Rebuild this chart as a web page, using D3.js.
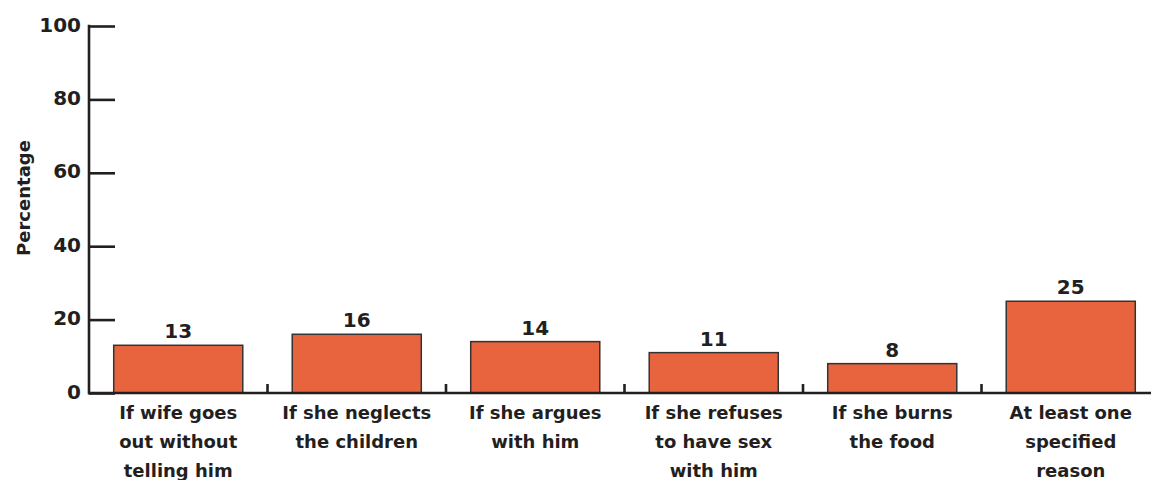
<!DOCTYPE html>
<html>
<head>
<meta charset="utf-8">
<script src="https://cdn.jsdelivr.net/npm/d3@7"></script>
<style>
  html, body { margin: 0; padding: 0; background: #fff; }
  svg { display: block; }
  text { font-family: "DejaVu Sans", "Liberation Sans", Arial, sans-serif; font-weight: bold; fill: #231f20; }
</style>
</head>
<body>
<svg id="chart" width="1151" height="480"></svg>
<script>
// Reasons a husband is justified in beating his wife (percent agreeing)
const categories = [
  ["If wife goes", "out without", "telling him"],
  ["If she neglects", "the children"],
  ["If she argues", "with him"],
  ["If she refuses", "to have sex", "with him"],
  ["If she burns", "the food"],
  ["At least one", "specified", "reason"]
];
const values = [13, 16, 14, 11, 8, 25];
const yTicks = [0, 20, 40, 60, 80, 100];
const yTitle = "Percentage";

const svg = d3.select("#chart");
const W = 1151;

const x = d3.scaleBand()
  .domain(d3.range(categories.length))
  .range([89, 1160])
  .paddingInner(0.277)
  .paddingOuter(0.1385);

const y = d3.scaleLinear().domain([0, 100]).range([393, 26]);

const ink = "#231f20";

// Bars
svg.append("g").selectAll("rect")
  .data(values)
  .join("rect")
  .attr("x", (d, i) => x(i))
  .attr("y", d => y(d))
  .attr("width", x.bandwidth())
  .attr("height", d => y(0) - y(d))
  .attr("fill", "#e8643f")
  .attr("stroke", "#333")
  .attr("stroke-width", 1.5);

// Value labels
svg.append("g").selectAll("text")
  .data(values)
  .join("text")
  .attr("x", (d, i) => x(i) + x.bandwidth() / 2)
  .attr("y", d => y(d) - 7)
  .attr("text-anchor", "middle")
  .attr("font-size", 20)
  .text(d => d);

// Y axis
const yAxis = d3.axisRight(y)
  .tickValues(yTicks)
  .tickSize(26)
  .tickFormat("");
const gy = svg.append("g").attr("transform", "translate(89,0)").call(yAxis);
gy.select(".domain").remove();
gy.selectAll(".tick line").attr("stroke", ink).attr("stroke-width", 2.6);
svg.append("line")
  .attr("x1", 89).attr("x2", 89)
  .attr("y1", y(100) - 1.3).attr("y2", y(0) + 1.3)
  .attr("stroke", ink).attr("stroke-width", 2.6);

svg.append("g").selectAll("text")
  .data(yTicks)
  .join("text")
  .attr("x", 81)
  .attr("y", d => y(d) + 5.5)
  .attr("text-anchor", "end")
  .attr("font-size", 20)
  .text(d => d);

// Y axis title
svg.append("text")
  .attr("transform", "translate(30,198) rotate(-90)")
  .attr("text-anchor", "middle")
  .attr("font-size", 18)
  .text(yTitle);

// X axis baseline and separator ticks between categories
svg.append("line")
  .attr("x1", 88).attr("x2", W)
  .attr("y1", y(0)).attr("y2", y(0))
  .attr("stroke", ink).attr("stroke-width", 2.6);

const step = x.step();
svg.append("g").selectAll("line")
  .data(d3.range(1, categories.length))
  .join("line")
  .attr("x1", i => x.range()[0] + i * step)
  .attr("x2", i => x.range()[0] + i * step)
  .attr("y1", y(0))
  .attr("y2", y(0) - 9)
  .attr("stroke", ink)
  .attr("stroke-width", 2.6);

// Category labels
const labels = svg.append("g").selectAll("text")
  .data(categories)
  .join("text")
  .attr("text-anchor", "middle")
  .attr("font-size", 18)
  .attr("transform", (d, i) => `translate(${x(i) + x.bandwidth() / 2},419)`);
labels.selectAll("tspan")
  .data(d => d)
  .join("tspan")
  .attr("x", 0)
  .attr("y", (d, j) => j * 29)
  .text(d => d);
</script>
</body>
</html>
